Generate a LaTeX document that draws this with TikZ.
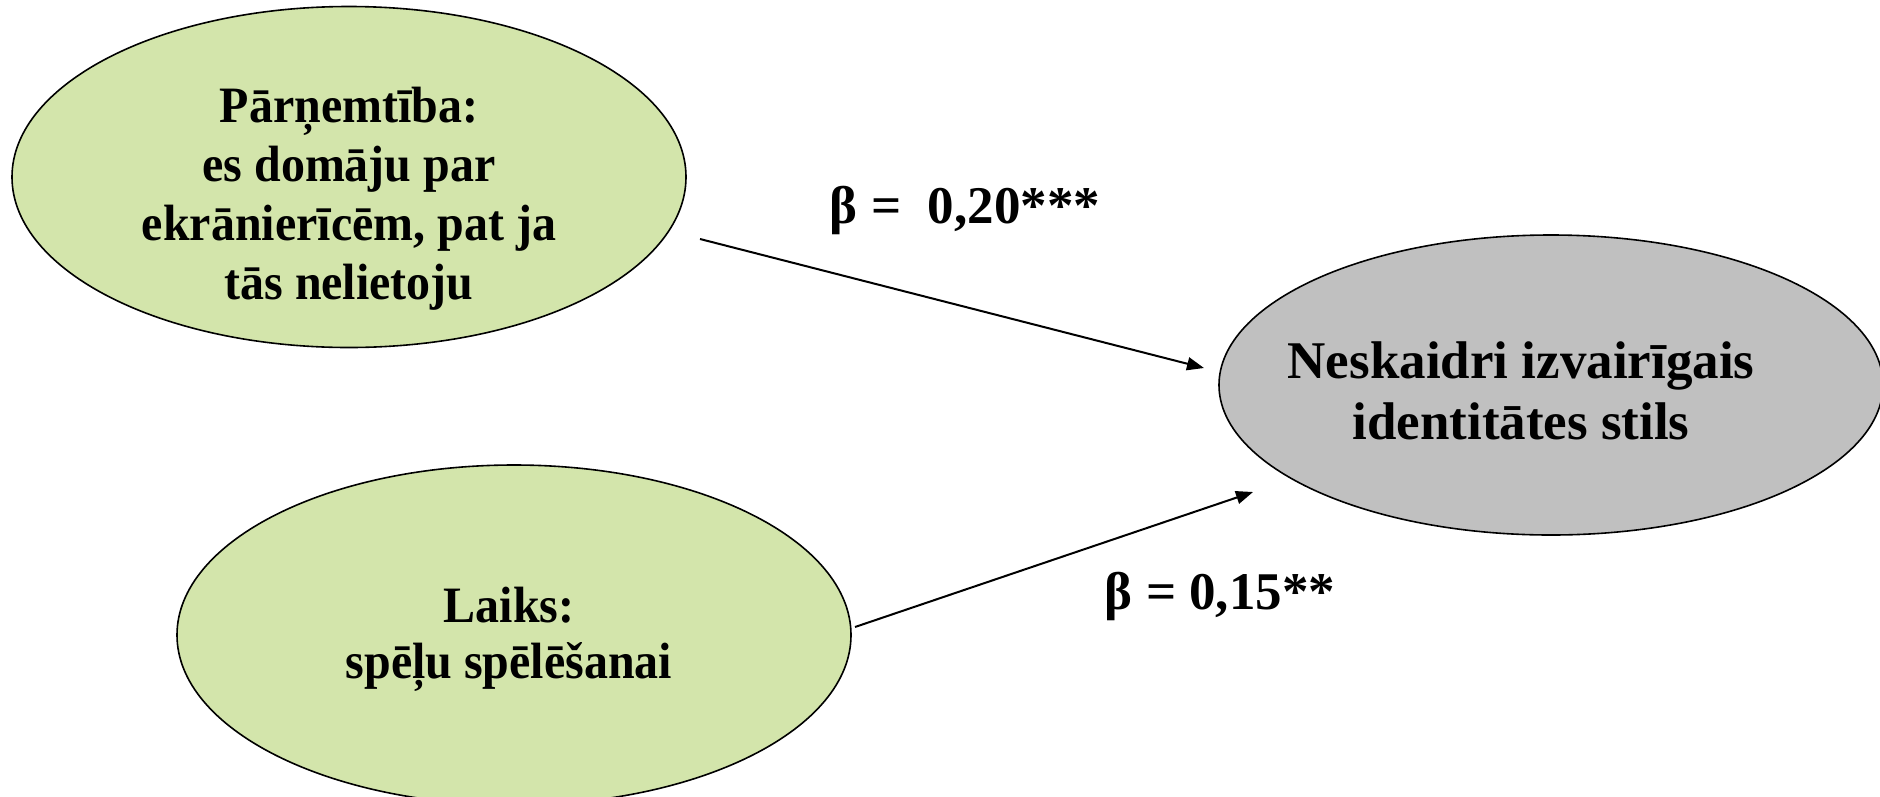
\documentclass[tikz,border=0pt]{standalone}
\usepackage{fontspec}
\setmainfont{Liberation Serif}
\newfontfamily\narrowserif[FakeStretch=0.94]{Liberation Serif}
\usetikzlibrary{shapes.geometric,arrows.meta}
\definecolor{lgreen}{RGB}{211,229,171}
\definecolor{lgray}{RGB}{192,192,192}
\begin{document}
\begin{tikzpicture}[x=1pt,y=-1pt,
  oval/.style={ellipse,draw=black,line width=1.6pt,inner sep=0pt},
  txt/.style={align=center,font=\narrowserif\fontsize{51}{59}\selectfont\bfseries,inner sep=0pt},
  link/.style={line width=2pt,-{Triangle[length=17pt,width=13pt]}},
  beta/.style={font=\fontsize{53}{59}\selectfont\bfseries,inner sep=0pt}]
\useasboundingbox (0,0) rectangle (1880,796);
\node[oval,fill=lgreen,minimum width=674pt,minimum height=341pt] (e1) at (349,177) {};
\node[oval,fill=lgreen,minimum width=674pt,minimum height=340pt] (e2) at (514,635) {};
\node[oval,fill=lgray,minimum width=664pt,minimum height=300pt] (e3) at (1551,385) {};
\node[txt] (t1) at (349,199) {Pārņemtība:\\es domāju par\\ekrānierīcēm, pat ja\\tās nelietoju};
\node[txt,font=\narrowserif\fontsize{51}{56}\selectfont\bfseries] (t2) at (509,639) {Laiks:\\spēļu spēlēšanai};
\node[txt,font=\fontsize{53}{61}\selectfont\bfseries] (t3) at (1521,391) {Neskaidri izvairīgais\\identitātes stils};
\coordinate (a1s) at (700,239);
\coordinate (a1e) at (1204,368);
\coordinate (a2s) at (855,627);
\coordinate (a2e) at (1253,492);
\draw[link] (a1s) -- (a1e);
\draw[link] (a2s) -- (a2e);
\node[beta] (b1) at (965,210) {β =\ \ 0,20***};
\node[beta] (b2) at (1220,596) {β = 0,15**};
\end{tikzpicture}
\end{document}
